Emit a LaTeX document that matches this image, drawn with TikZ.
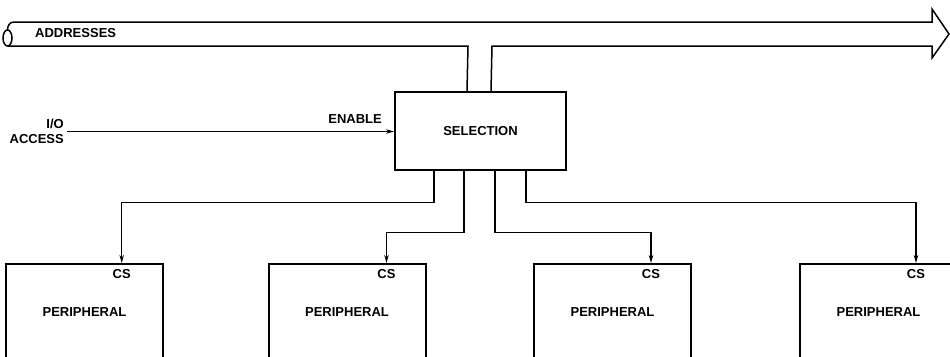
\documentclass[tikz,border=0pt]{standalone}
\usepackage{fontspec}
\setmainfont{Liberation Sans}
\usetikzlibrary{arrows.meta}
\begin{document}
\begin{tikzpicture}[x=1pt,y=-1pt,
  lbl/.style={font=\bfseries\fontsize{13}{15}\selectfont, inner sep=0pt},
  box/.style={draw, line width=2pt, rectangle, inner sep=0pt},
  pbox/.style={box, minimum width=157pt, minimum height=97pt, font=\bfseries\fontsize{13}{15}\selectfont},
  conn/.style={line width=1.3pt},
  arr/.style={conn, -{Stealth[length=8pt,width=4.5pt]}},
  bus/.style={line width=1.5pt, line join=miter}]
\useasboundingbox (0,0) rectangle (950,356);
\clip (0,0) rectangle (950,356);

% selection box
\node[box, minimum width=171pt, minimum height=78pt, font=\bfseries\fontsize{13}{15}\selectfont] (sel) at (480.5,131) {SELECTION};

% peripherals
\node[pbox] (p1) at (84.5,312.5) {PERIPHERAL};
\node[pbox] (p2) at (347,312.5) {PERIPHERAL};
\node[pbox] (p3) at (612.5,312.5) {PERIPHERAL};
\node[pbox] (p4) at (878.5,312.5) {PERIPHERAL};

% CS labels
\node[lbl] (cs1) at ([xshift=116.7,yshift=-11]p1.north west) {CS};
\node[lbl] (cs2) at ([xshift=119,yshift=-11]p2.north west) {CS};
\node[lbl] (cs3) at ([xshift=118,yshift=-11]p3.north west) {CS};
\node[lbl] (cs4) at ([xshift=117,yshift=-11]p4.north west) {CS};

% bus
\draw[bus] (14,22) -- (932,22) -- (932,9) -- (949,34) -- (932,58) -- (932,46) -- (492,46) -- ([xshift=97]sel.north west);
\draw[bus] ([xshift=73]sel.north west) -- (468,46) -- (8,46);
\draw[bus] (14,22) .. controls (9.5,22) and (7.5,26) .. (7.5,30);
\draw[bus] (7.5,38) ellipse [x radius=4.5, y radius=8];
\node[lbl, anchor=west] (addr) at (35,33.5) {ADDRESSES};

% I/O access
\node[lbl, anchor=east, align=right] (io) at (64,131.5) {I/O\\ACCESS};
\draw[arr] ([xshift=3]io.east) -- (io.east -| sel.west);
\node[lbl, anchor=east] (en) at ([xshift=-12,yshift=12]sel.west) {ENABLE};

% selection outputs
\draw[arr] ([xshift=40]sel.south west) -- ++(0,31.7) -| ([xshift=116.7]p1.north west);
\draw[arr] ([xshift=70]sel.south west) -- ++(0,61.7) -| ([xshift=119]p2.north west);
\draw[arr] ([xshift=101]sel.south west) -- ++(0,61.7) -| ([xshift=118]p3.north west);
\draw[arr] ([xshift=132]sel.south west) -- ++(0,31.7) -| ([xshift=117]p4.north west);
\end{tikzpicture}
\end{document}
